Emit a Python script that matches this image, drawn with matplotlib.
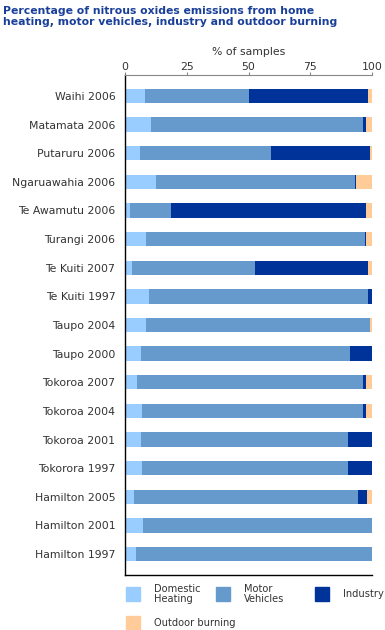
"""
Stacked bar chart of nitrous oxides emission sources by town and year.
"""

import matplotlib.pyplot as plt
from matplotlib.patches import Rectangle
import numpy as np

W, H = 385, 630

sites = ["Waihi 2006", "Matamata 2006", "Putaruru 2006", "Ngaruawahia 2006",
         "Te Awamutu 2006", "Turangi 2006", "Te Kuiti 2007", "Te Kuiti 1997",
         "Taupo 2004", "Taupo 2000", "Tokoroa 2007", "Tokoroa 2004",
         "Tokoroa 2001", "Tokorora 1997", "Hamilton 2005", "Hamilton 2001",
         "Hamilton 1997"]

domestic_heating = [8.2, 10.4, 5.9, 12.7, 1.9, 8.6, 2.8, 9.7, 8.6, 6.3, 5.0, 6.9, 6.3, 6.9, 3.8, 7.3, 4.6]
motor_vehicles   = [42.1, 86.0, 53.3, 80.3, 16.7, 88.4, 49.7, 88.7, 90.5, 84.9, 91.4, 89.5, 84.1, 83.5, 90.7, 92.7, 95.4]
industry         = [48.2, 1.3, 39.9, 0.7, 78.8, 0.7, 45.9, 1.6, 0.0, 8.8, 1.3, 1.3, 9.6, 9.6, 3.6, 0.0, 0.0]
outdoor_burning  = [1.5, 2.3, 0.9, 6.3, 2.6, 2.3, 1.6, 0.0, 0.9, 0.0, 2.3, 2.3, 0.0, 0.0, 1.9, 0.0, 0.0]

series = [("Domestic\nHeating", domestic_heating, "#99ccff"),
          ("Motor\nVehicles", motor_vehicles, "#6699cc"),
          ("Industry", industry, "#003399"),
          ("Outdoor burning", outdoor_burning, "#ffcc99")]

text_color = "#333333"
plt.rcParams["font.family"] = "DejaVu Sans"

fig = plt.figure(figsize=(W / 100, H / 100), dpi=100)
ax = fig.add_axes([125 / W, (H - 575) / H, 247 / W, 500 / H])

y = np.arange(len(sites))
left = np.zeros(len(sites))
for name, vals, color in series:
    vals = np.array(vals)
    ax.barh(y, vals, left=left, height=0.5, color=color, edgecolor="none")
    left += vals

ax.set_xlim(0, 100)
ax.set_ylim(len(sites) - 1 + 0.73, -0.73)
ax.set_yticks(y)
ax.set_yticklabels(sites, fontsize=7.8, color=text_color)
ax.tick_params(axis="y", length=0, pad=7)

ax.xaxis.tick_top()
ax.xaxis.set_label_position("top")
ax.set_xticks([0, 25, 50, 75, 100])
ax.tick_params(axis="x", length=2, width=0.8, color="#888888", labelsize=7.8,
               labelcolor=text_color, pad=0)
ax.set_xlabel("% of samples", fontsize=7.8, color=text_color, labelpad=5)

ax.spines["right"].set_visible(False)
ax.spines["top"].set_color("#888888")
ax.spines["top"].set_linewidth(0.8)
ax.spines["left"].set_color("black")
ax.spines["bottom"].set_color("black")
ax.spines["left"].set_linewidth(1.0)
ax.spines["bottom"].set_linewidth(1.0)

fig.text(3 / W, 1 - 6 / H, "Percentage of nitrous oxides emissions from home\n"
         "heating, motor vehicles, industry and outdoor burning",
         fontsize=7.85, fontweight="bold", color="#1a3f99", va="top", ha="left",
         linespacing=1.15)

# legend drawn by hand to match the original layout
legend_pos = [(126, 587), (216, 587), (315, 587), (126, 616)]
for (name, vals, color), (px, py) in zip(series, legend_pos):
    fig.add_artist(Rectangle((px / W, 1 - (py + 14) / H), 14 / W, 14 / H,
                             transform=fig.transFigure, color=color))
    fig.text((px + 28) / W, 1 - (py + 7) / H, name, fontsize=7.1,
             color=text_color, va="center", ha="left", linespacing=1.1)

plt.savefig("out.png", dpi=100)
plt.close()
